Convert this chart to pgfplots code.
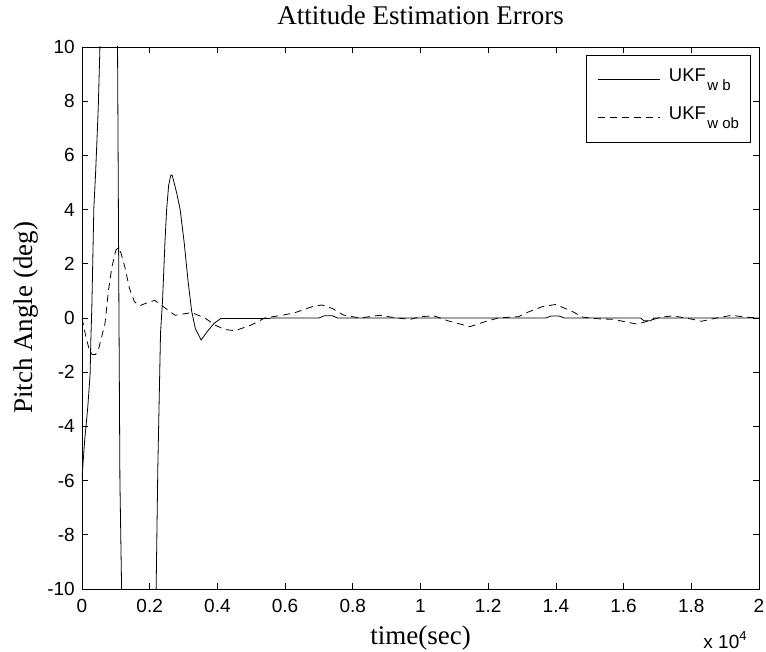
\documentclass[border=0pt]{standalone}
\usepackage{fontspec}
\setmainfont{Liberation Serif}
\newfontfamily\arial{Liberation Sans}
\usepackage{pgfplots}
\pgfplotsset{compat=1.18}
\newcommand\tickfont{\arial\fontsize{19}{21}\selectfont}
\newcommand\legfont{\arial\fontsize{18.5}{20}\selectfont}
\newcommand\subfont{\arial\fontsize{15}{16}\selectfont}
\newcommand\labfont{\fontsize{27}{30}\selectfont}
\begin{document}
\begin{tikzpicture}
\path[use as bounding box] (0pt,0pt) rectangle (766pt,652pt);
\begin{axis}[
  at={(82pt,63pt)}, anchor=south west,
  width=677pt, height=542pt, scale only axis,
  clip mode=individual,
  xmin=0, xmax=2, ymin=-10, ymax=10,
  xtick={0,0.2,0.4,0.6,0.8,1,1.2,1.4,1.6,1.8,2},
  xticklabels={0,0.2,0.4,0.6,0.8,1,1.2,1.4,1.6,1.8,2},
  ytick={-10,-8,-6,-4,-2,0,2,4,6,8,10},
  yticklabels={-10,-8,-6,-4,-2,0,2,4,6,8,10},
  tick align=inside, major tick length=6pt,
  axis line style={line width=0.9pt},
  every tick/.style={black, line width=0.8pt},
  xticklabel style={font=\tickfont, inner sep=0pt, anchor=north, yshift=-10pt},
  yticklabel style={font=\tickfont, inner sep=0pt, anchor=east, xshift=-7pt},
  title={Attitude Estimation Errors},
  title style={font=\labfont, at={(axis description cs:0.5,1.0300)}, anchor=base, inner sep=0pt},
  xlabel={time(sec)},
  xlabel style={font=\labfont, at={(axis description cs:0.5,-0.1015)}, anchor=base, inner sep=0pt},
  ylabel={Pitch Angle (deg)},
  ylabel style={font=\labfont, at={(axis description cs:-0.0724,0.5)}, anchor=base, inner sep=0pt},
  legend cell align=left,
  legend image code/.code={\draw[#1] (0pt,0pt) -- (62pt,0pt);},
  legend style={at={(axis description cs:1,1)}, anchor=north east, xshift=-8pt, yshift=-8pt,
    draw=black, line width=0.8pt, fill=white, inner xsep=11.5pt, inner ysep=13.5pt,
    row sep=15.6pt, column sep=8.4pt, font=\legfont,
    nodes={inner sep=0pt, text height=13pt, text depth=9pt}},
]
\addplot[black, line width=0.8pt] coordinates {
(0,-5.9) (0.008,-4.5) (0.017,-3.3) (0.024,-2.07) (0.026,-0.85) (0.029,0.37) (0.031,1.6) (0.033,2.84) (0.035,4.06) (0.04,5.3) (0.044,6.5) (0.048,7.75) (0.053,10) (0.06,13) (0.075,16) (0.09,15) (0.1,12) (0.105,10) (0.109,0.6) (0.112,-6) (0.117,-10) (0.125,-14) (0.17,-16) (0.21,-13) (0.219,-10) (0.224,-5.5) (0.232,-0.55) (0.238,0.66) (0.245,2.77) (0.25,4.0) (0.256,4.9) (0.262,5.25) (0.266,5.28) (0.272,5.0) (0.28,4.6) (0.29,4.0) (0.302,2.77) (0.313,1.4) (0.324,0.25) (0.335,-0.4) (0.352,-0.81) (0.37,-0.5) (0.39,-0.2) (0.41,-0.02) (0.55,-0.02) (0.56,0) (0.70,0) (0.715,0.08) (0.74,0.08) (0.755,0) (1.37,0) (1.385,0.07) (1.41,0.07) (1.425,0) (1.65,0) (1.66,-0.1) (1.68,-0.1) (1.69,0) (2,0)
};
\addlegendentry{UKF\hspace{1.5pt}\raisebox{-9pt}{\subfont w b}}
\addplot[black, line width=0.8pt, dash pattern=on 7pt off 5pt] coordinates {
(0,0) (0.01,-0.6) (0.02,-1.1) (0.03,-1.35) (0.04,-1.35) (0.05,-1.1) (0.06,-0.6) (0.068,-0.2) (0.078,1.0) (0.088,1.86) (0.1,2.5) (0.107,2.6) (0.115,2.4) (0.127,1.86) (0.14,1.1) (0.155,0.6) (0.17,0.45) (0.19,0.55) (0.215,0.65) (0.24,0.42) (0.275,0.1) (0.3,0.15) (0.324,0.2) (0.363,0) (0.393,-0.26) (0.42,-0.42) (0.452,-0.47) (0.5,-0.26) (0.54,0) (0.6,0.12) (0.63,0.2) (0.68,0.42) (0.708,0.48) (0.74,0.35) (0.772,0.11) (0.82,0) (0.88,0.1) (0.93,0) (0.97,-0.05) (1.0,0.05) (1.04,0.08) (1.08,-0.1) (1.146,-0.32) (1.195,-0.12) (1.23,0) (1.29,0.05) (1.32,0.23) (1.36,0.42) (1.40,0.5) (1.45,0.23) (1.48,0.03) (1.525,-0.03) (1.57,-0.05) (1.64,-0.23) (1.71,0.03) (1.746,0.08) (1.80,-0.04) (1.83,-0.12) (1.875,0) (1.92,0.1) (1.96,0.03) (2.0,0)
};
\addlegendentry{UKF\hspace{1.5pt}\raisebox{-9pt}{\subfont w ob}}
\node[anchor=base east, inner sep=0pt, font=\tickfont] at (axis description cs:0.982,-0.1105) {x 10\raisebox{8pt}{\fontsize{13}{14}\selectfont 4}};
\end{axis}
\end{tikzpicture}
\end{document}
